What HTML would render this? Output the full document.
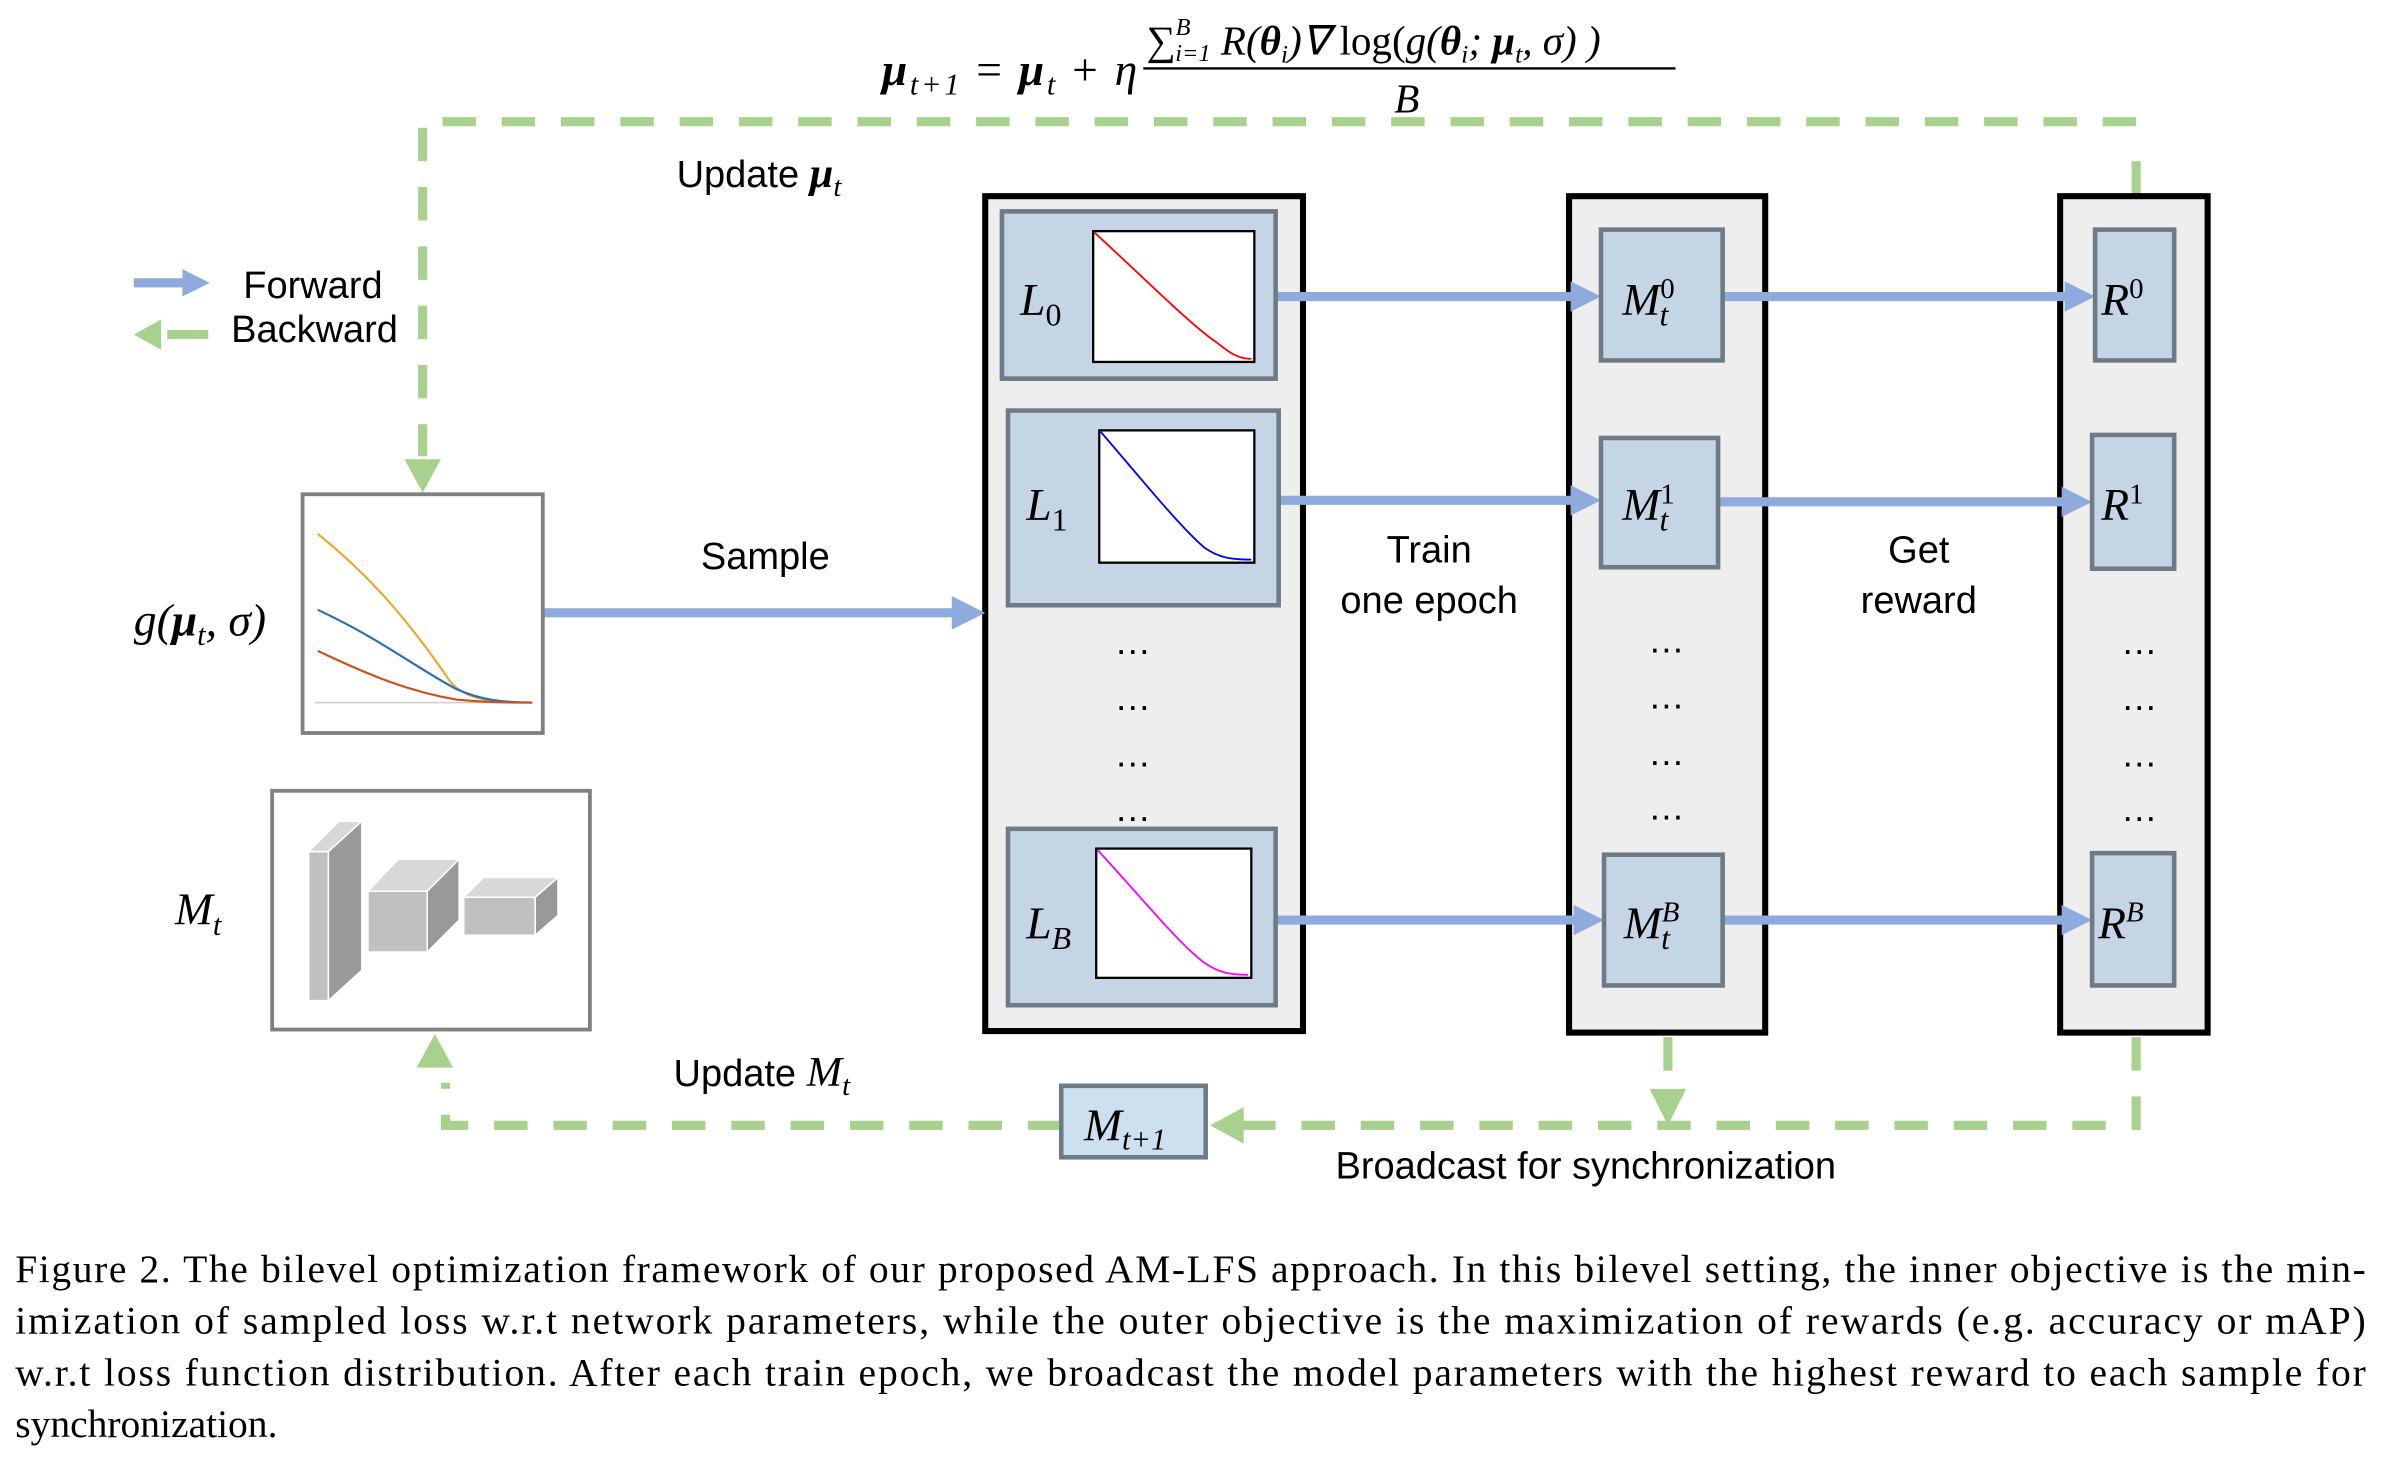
<!DOCTYPE html>
<html><head><meta charset="utf-8"><style>html,body{margin:0;padding:0;background:#fff}svg{display:block}</style></head>
<body>
<svg width="2384" height="1466" viewBox="0 0 1568 964" preserveAspectRatio="none" xmlns="http://www.w3.org/2000/svg" font-family="Liberation Sans, sans-serif">
<g fill="none" stroke="#a9d18e" stroke-width="6" stroke-dasharray="22 17">
<path d="M1405,80 H278 V300"/>
<path d="M1405,128 V98"/>
<path d="M1405,682 V740 H815"/>
<path d="M1097,682 V716"/>
<path d="M698,740 H293 V712"/>
<path d="M110,220 H137" stroke-dasharray="none"/>
</g>
<g fill="#a9d18e">
<polygon points="266,302 290,302 278,324"/>
<polygon points="1085,716 1109,716 1097,740"/>
<polygon points="818,728 818,752 796,740"/>
<polygon points="274,702 298,702 286,680"/>
<polygon points="106,210 106,230 88,220"/>
</g>
<g fill="#eeeeee" stroke="#000" stroke-width="4">
<rect x="648" y="129" width="209" height="549"/>
<rect x="1032" y="129" width="129" height="550"/>
<rect x="1355" y="129" width="97" height="550"/>
</g>
<g stroke="#8faadc" stroke-width="6" fill="#8faadc">
<line x1="88" y1="186" x2="120" y2="186"/>
<polygon points="120,177 138,186 120,195" stroke="none"/>
<line x1="357" y1="403" x2="628" y2="403"/>
<polygon points="626,392 648,403 626,414" stroke="none"/>
<line x1="839" y1="195" x2="1035" y2="195"/><polygon points="1033,185 1053,195 1033,205" stroke="none"/>
<line x1="1133" y1="195" x2="1360" y2="195"/><polygon points="1358,185 1378,195 1358,205" stroke="none"/>
<line x1="841" y1="329" x2="1035" y2="329"/><polygon points="1033,319 1053,329 1033,339" stroke="none"/>
<line x1="1130" y1="330" x2="1358" y2="330"/><polygon points="1356,320 1376,330 1356,340" stroke="none"/>
<line x1="839" y1="605" x2="1037" y2="605"/><polygon points="1035,595 1055,605 1035,615" stroke="none"/>
<line x1="1133" y1="605" x2="1358" y2="605"/><polygon points="1356,595 1376,605 1356,615" stroke="none"/>
</g>
<g fill="#c5d5e6" stroke="#6e7a85" stroke-width="3">
<rect x="659" y="139" width="180" height="110"/>
<rect x="663" y="270" width="178" height="128"/>
<rect x="663" y="545" width="176" height="116"/>
<rect x="1053" y="151" width="80" height="86"/>
<rect x="1053" y="288" width="77" height="85"/>
<rect x="1055" y="562" width="78" height="86"/>
<rect x="1378" y="151" width="52" height="86"/>
<rect x="1376" y="286" width="54" height="88"/>
<rect x="1376" y="561" width="54" height="87"/>
<rect x="698" y="714" width="95" height="47" fill="#cde0f0"/>
</g>
<g fill="#fff" stroke="#000" stroke-width="1.5">
<rect x="719" y="152" width="106" height="86"/>
<rect x="723" y="283" width="102" height="87"/>
<rect x="721" y="558" width="102" height="85"/>
</g>
<path d="M720,153 C760,190 785,215 800,225 C810,233 815,236 823,236" fill="none" stroke="#ff0000" stroke-width="1.2"/>
<path d="M724,284 C755,320 775,345 792,360 C802,367 810,368 823,368" fill="none" stroke="#0000ff" stroke-width="1.2"/>
<path d="M722,559 C755,595 775,620 792,633 C802,640 810,641 821,641" fill="none" stroke="#ff00ff" stroke-width="1.2"/>
<rect x="199" y="325" width="158" height="157" fill="#fff" stroke="#808080" stroke-width="2.5"/>
<line x1="207" y1="462" x2="350" y2="462" stroke="#ccc" stroke-width="1"/>
<path d="M209,351 C245,380 270,410 296,448 C305,459 320,462 350,462" fill="none" stroke="#e8a82a" stroke-width="1.4"/>
<path d="M209,401 C250,420 275,440 300,453 C315,460 330,462 350,462" fill="none" stroke="#2a6eb8" stroke-width="1.4"/>
<path d="M209,428 C245,445 270,455 300,460 C320,462 335,462 350,462" fill="none" stroke="#d0501a" stroke-width="1.4"/>
<rect x="179" y="520" width="209" height="157" fill="#fff" stroke="#808080" stroke-width="2.5"/>
<polygon points="203,560 216,560 216,658 203,658" fill="#c0c0c0" stroke="#fff"/>
<polygon points="203,560 223,540 238,540 216,560" fill="#d8d8d8" stroke="#fff"/>
<polygon points="216,560 238,540 238,638 216,658" fill="#999" stroke="#fff"/>
<polygon points="242,586 281,586 281,626 242,626" fill="#c0c0c0" stroke="#fff"/>
<polygon points="242,586 262,565 302,565 281,586" fill="#d8d8d8" stroke="#fff"/>
<polygon points="281,586 302,565 302,605 281,626" fill="#999" stroke="#fff"/>
<polygon points="305,590 352,590 352,615 305,615" fill="#c0c0c0" stroke="#fff"/>
<polygon points="305,590 318,577 367,577 352,590" fill="#d8d8d8" stroke="#fff"/>
<polygon points="352,590 367,577 367,602 352,615" fill="#999" stroke="#fff"/>
<g font-size="25" fill="#000">
<text x="160" y="196">Forward</text>
<text x="152" y="225">Backward</text>
<text x="445" y="123">Update <tspan font-family="Liberation Serif, serif" font-style="italic" font-weight="bold" font-size="28">μ</tspan><tspan font-family="Liberation Serif, serif" font-style="italic" font-size="19" dy="6">t</tspan></text>
<text x="461" y="374">Sample</text>
<text x="940" y="370" text-anchor="middle">Train</text>
<text x="940" y="403" text-anchor="middle">one epoch</text>
<text x="1262" y="370" text-anchor="middle">Get</text>
<text x="1262" y="403" text-anchor="middle">reward</text>
<text x="443" y="714">Update <tspan font-family="Liberation Serif, serif" font-style="italic" font-size="28">M</tspan><tspan font-family="Liberation Serif, serif" font-style="italic" font-size="19" dy="6">t</tspan></text>
<text x="1043" y="775" text-anchor="middle">Broadcast for synchronization</text>
</g>
<g font-family="Liberation Serif, serif" font-style="italic" font-size="30" fill="#000">
<text x="88" y="418">g(<tspan font-weight="bold">μ</tspan><tspan font-size="20" dy="6">t</tspan><tspan dy="-6">, σ)</tspan></text>
<text x="115" y="608">M<tspan font-size="20" dy="7">t</tspan></text>
<text x="671" y="207">L<tspan font-size="21" dy="7" font-style="normal">0</tspan></text>
<text x="675" y="342">L<tspan font-size="21" dy="7" font-style="normal">1</tspan></text>
<text x="675" y="617">L<tspan font-size="21" dy="7">B</tspan></text>
<text x="1067" y="207">M<tspan font-size="19" dy="-11" font-style="normal">0</tspan><tspan font-size="21" dx="-10" dy="18">t</tspan></text>
<text x="1067" y="342">M<tspan font-size="19" dy="-11" font-style="normal">1</tspan><tspan font-size="21" dx="-10" dy="18">t</tspan></text>
<text x="1068" y="617">M<tspan font-size="19" dy="-11">B</tspan><tspan font-size="21" dx="-12" dy="18">t</tspan></text>
<text x="1382" y="207">R<tspan font-size="19" dy="-11" font-style="normal">0</tspan></text>
<text x="1382" y="342">R<tspan font-size="19" dy="-11" font-style="normal">1</tspan></text>
<text x="1380" y="617">R<tspan font-size="19" dy="-11">B</tspan></text>
<text x="713" y="750">M<tspan font-size="20" dy="6">t+1</tspan></text>
<text x="580" y="56" font-size="30" textLength="168" lengthAdjust="spacing"><tspan font-weight="bold">μ</tspan><tspan font-size="20" dy="6">t+1</tspan><tspan dy="-6" font-style="normal"> = </tspan><tspan font-weight="bold">μ</tspan><tspan font-size="20" dy="6">t</tspan><tspan dy="-6" font-style="normal"> + </tspan>η</text>
<text x="754" y="36" font-size="27"><tspan font-style="normal">∑</tspan><tspan font-size="16" dy="-13">B</tspan><tspan font-size="16" dx="-10" dy="17">i=1</tspan><tspan dy="-4"> R(</tspan><tspan font-weight="bold">θ</tspan><tspan font-size="17" dy="5">i</tspan><tspan dy="-5">)∇ </tspan><tspan font-style="normal">log(</tspan>g(<tspan font-weight="bold">θ</tspan><tspan font-size="17" dy="5">i</tspan><tspan dy="-5">; </tspan><tspan font-weight="bold">μ</tspan><tspan font-size="17" dy="5">t</tspan><tspan dy="-5">, σ) )</tspan></text>
<line x1="752" y1="45" x2="1102" y2="45" stroke="#000" stroke-width="1.5"/>
<text x="917" y="74" font-size="27">B</text>
</g>
<g font-size="24" fill="#000" text-anchor="middle">
<text x="745" y="430">…</text><text x="745" y="467">…</text><text x="745" y="504">…</text><text x="745" y="540">…</text>
<text x="1096" y="429">…</text><text x="1096" y="466">…</text><text x="1096" y="503">…</text><text x="1096" y="539">…</text>
<text x="1407" y="430">…</text><text x="1407" y="467">…</text><text x="1407" y="504">…</text><text x="1407" y="540">…</text>
</g>
<g font-family="Liberation Serif, serif" font-size="26" fill="#000">
<text x="10" y="843" textLength="1546" lengthAdjust="spacing">Figure 2. The bilevel optimization framework of our proposed AM-LFS approach.  In this bilevel setting, the inner objective is the min-</text>
<text x="10" y="877" textLength="1546" lengthAdjust="spacing">imization of sampled loss w.r.t network parameters, while the outer objective is the maximization of rewards (e.g.  accuracy or mAP)</text>
<text x="10" y="911" textLength="1546" lengthAdjust="spacing">w.r.t loss function distribution.  After each train epoch, we broadcast the model parameters with the highest reward to each sample for</text>
<text x="10" y="945">synchronization.</text>
</g>
</svg>
</body></html>
